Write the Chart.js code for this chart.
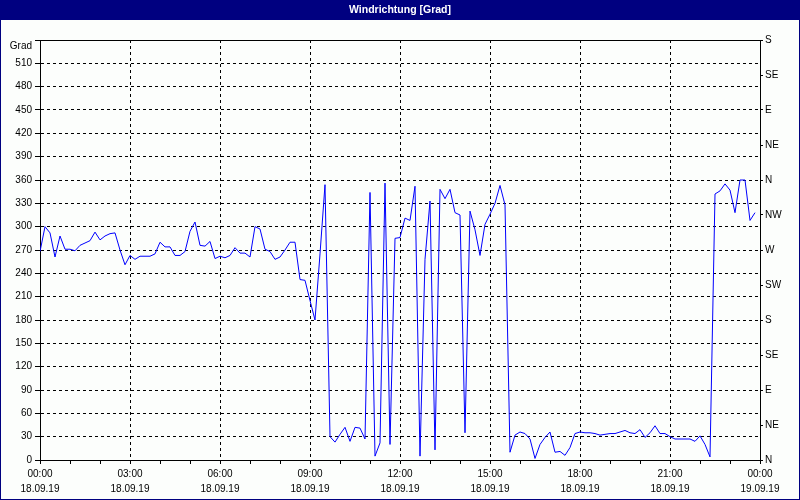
<!DOCTYPE html>
<html>
<head>
<meta charset="utf-8">
<title>Windrichtung</title>
<script src="https://cdn.jsdelivr.net/npm/chart.js@4.4.0/dist/chart.umd.min.js"></script>
<style>
  html, body { margin: 0; padding: 0; background: #fcfefc; }
  canvas { display: block; }
</style>
</head>
<body>
<canvas id="windChart" width="800" height="500"></canvas>
<script>
// wind direction over one day, one reading every 10 minutes
const minutes = [
    0, 10, 20, 30, 40, 50, 60, 70, 80, 90, 100, 110, 120, 130, 140, 150, 160, 170, 180, 190,
    200, 210, 220, 230, 240, 250, 260, 270, 280, 290, 300, 310, 320, 330, 340, 350, 360, 370, 380, 390,
    400, 410, 420, 430, 440, 450, 460, 470, 480, 490, 500, 510, 520, 530, 540, 550, 560, 570, 580, 590,
    600, 610, 620, 630, 640, 650, 660, 670, 680, 690, 700, 710, 720, 730, 740, 750, 760, 770, 780, 790,
    800, 810, 820, 830, 840, 850, 860, 870, 880, 890, 900, 910, 920, 930, 940, 950, 960, 970, 980, 990,
    1000, 1010, 1020, 1030, 1040, 1050, 1060, 1070, 1080, 1090, 1100, 1110, 1120, 1130, 1140, 1150, 1160, 1170, 1180, 1190,
    1200, 1210, 1220, 1230, 1240, 1250, 1260, 1270, 1280, 1290, 1300, 1310, 1320, 1330, 1340, 1350, 1360, 1370, 1380, 1390,
    1400, 1410, 1420, 1430
];
const direction = [
    268, 300, 292, 261, 288, 271, 271, 269, 276, 279, 282, 293, 283, 288, 291, 292, 270, 251, 263, 258,
    262, 262, 262, 265, 280, 274, 274, 263, 263, 268, 294, 306, 276, 275, 281, 259, 262, 260, 263, 273,
    266, 266, 261, 300, 297, 271, 268, 258, 261, 270, 280, 280, 232, 231, 205, 180, 265, 354, 30, 23,
    33, 42, 24, 42, 41, 27, 344, 5, 22, 356, 20, 285, 286, 311, 308, 352, 5, 258, 333, 13,
    348, 336, 348, 318, 315, 35, 320, 296, 263, 303, 316, 330, 353, 328, 10, 32, 36, 34, 27, 2,
    20, 29, 36, 10, 11, 6, 16, 34, 36, 35, 35, 34, 32, 33, 34, 34, 36, 38, 35, 34,
    39, 29, 35, 44, 34, 34, 30, 27, 27, 27, 27, 24, 31, 20, 4, 342, 346, 355, 347, 318,
    360, 360, 308, 318
];

const timeLabels = ['00:00', '03:00', '06:00', '09:00', '12:00', '15:00', '18:00', '21:00', '00:00'];
const dateLabels = ['18.09.19', '18.09.19', '18.09.19', '18.09.19', '18.09.19', '18.09.19', '18.09.19', '18.09.19', '19.09.19'];
const compass = ['N', 'NE', 'E', 'SE', 'S', 'SW', 'W', 'NW', 'N', 'NE', 'E', 'SE', 'S'];

const navy = '#000080';
const paper = '#fcfefc';

Chart.defaults.font.family = "'Liberation Sans', Arial, sans-serif";
Chart.defaults.font.size = 10;
Chart.defaults.color = '#000';

// title bar + outer frame like the old windows chart control
const frame = {
    id: 'frame',
    beforeDraw(chart){
        const c = chart.ctx;
        c.save();
        c.fillStyle = paper;
        c.fillRect(0, 0, chart.width, chart.height);
        c.fillStyle = navy;
        c.fillRect(0, 0, chart.width, 20);
        c.restore();
    },
    afterDraw(chart){
        const c = chart.ctx;
        c.save();
        c.strokeStyle = navy;
        c.lineWidth = 1;
        c.strokeRect(0.5, 0.5, chart.width - 1, chart.height - 1);
        c.restore();
    }
};

const points = minutes.map((m, i) => ({x: m, y: direction[i]}));

const ctx = document.getElementById('windChart').getContext('2d');
const windChart = new Chart(ctx, {
    type: 'line',
    data: {
        datasets: [{
            label: 'Windrichtung',
            data: points,
            borderColor: '#0000ff',
            borderWidth: 1,
            pointRadius: 0,
            fill: false,
            tension: 0
        }]
    },
    plugins: [frame],
    options: {
        responsive: false,
        animation: false,
        devicePixelRatio: 1,
        events: [],
        layout: { padding: 0 },
        plugins: {
            legend: { display: false },
            tooltip: { enabled: false },
            title: {
                display: true,
                text: 'Windrichtung [Grad]',
                color: '#fff',
                font: { weight: 'bold', size: 10.5 },
                padding: { top: 4, bottom: 4 }
            }
        },
        scales: {
            x: {
                type: 'linear',
                position: 'bottom',
                min: 0,
                max: 1440,
                afterFit(scale){ scale.height = 40; },
                border: { color: '#000', dash: [3, 3] },
                grid: {
                    color: (c) => (c.tick && c.tick.value % 180 === 0 && c.tick.value > 0 && c.tick.value < 1440) ? '#000' : 'rgba(0,0,0,0)',
                    tickColor: '#000',
                    tickLength: 4
                },
                ticks: {
                    stepSize: 60,
                    autoSkip: false,
                    maxRotation: 0,
                    padding: 3,
                    font: { lineHeight: 1.5 },
                    callback(value){
                        if (value % 180 !== 0) return '';
                        const i = value / 180;
                        return [timeLabels[i], dateLabels[i]];
                    }
                }
            },
            xTop: {
                type: 'linear',
                position: 'top',
                min: 0,
                max: 1440,
                afterFit(scale){ scale.height = 19.4; },
                border: { color: '#000' },
                grid: { display: false },
                ticks: { display: false }
            },
            y: {
                type: 'linear',
                position: 'left',
                min: 0,
                max: 540,
                afterFit(scale){ scale.width = 40; },
                border: { color: '#000', dash: [3, 3] },
                grid: {
                    color: (c) => (c.tick && c.tick.value > 0 && c.tick.value < 540) ? '#000' : 'rgba(0,0,0,0)',
                    tickColor: '#000',
                    tickLength: 5
                },
                ticks: {
                    stepSize: 30,
                    autoSkip: false,
                    padding: 3,
                    callback(value){
                        return value === 540 ? ['', 'Grad'] : value;
                    }
                }
            },
            y2: {
                type: 'linear',
                position: 'right',
                min: 0,
                max: 540,
                afterFit(scale){ scale.width = 40; },
                border: { color: '#000' },
                grid: {
                    drawOnChartArea: false,
                    tickColor: '#000',
                    tickLength: 3
                },
                ticks: {
                    stepSize: 45,
                    autoSkip: false,
                    padding: 2,
                    callback(value){
                        return compass[value / 45];
                    }
                }
            }
        }
    }
});
</script>
</body>
</html>
